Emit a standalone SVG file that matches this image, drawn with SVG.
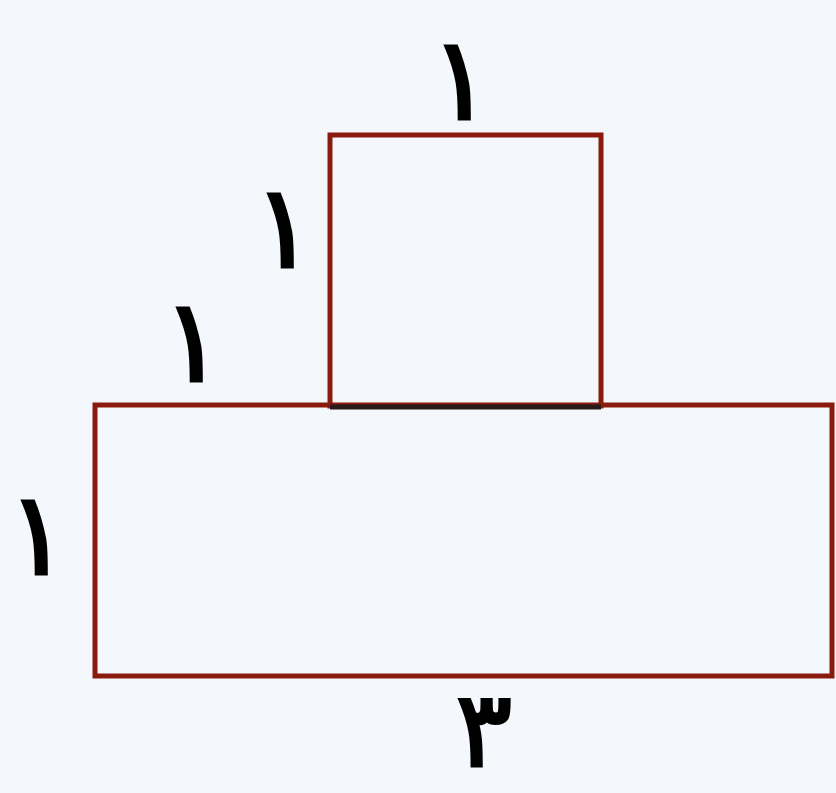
<svg xmlns="http://www.w3.org/2000/svg" width="836" height="793" viewBox="0 0 836 793">
<style>
.shape{fill:none;stroke:#8a1a0e;stroke-width:5;stroke-linejoin:miter}
.lbl{font-family:"DejaVu Sans","Noto Sans",sans-serif;font-weight:normal;font-size:115px;fill:#000;stroke:#000;stroke-width:3;text-anchor:middle}
</style>
<rect x="0" y="0" width="836" height="793" fill="#f4f8fc"/>
<g id="base">
<rect class="shape" x="95" y="405" width="737" height="271"/>
</g>
<g id="top">
<rect class="shape" x="330" y="135" width="271" height="271"/>
<line x1="330" y1="407" x2="601" y2="407" stroke="#2a1a1a" stroke-width="5"/>
</g>
<g id="labels">
<text class="lbl" x="461" y="119">۱</text>
<text class="lbl" x="284" y="267">۱</text>
<text class="lbl" x="193" y="381">۱</text>
<text class="lbl" x="38" y="574">۱</text>
<text class="lbl" x="484" y="766" style="font-size:105px">۳</text>
</g>
</svg>
